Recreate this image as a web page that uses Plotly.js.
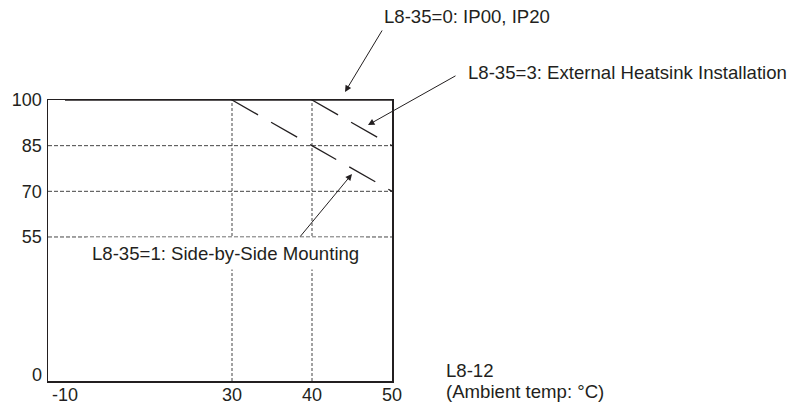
<!DOCTYPE html>
<html><head><meta charset="utf-8">
<script src="https://cdn.plot.ly/plotly-3.0.1.min.js"></script>
<style>html,body{margin:0;padding:0;background:#fff}#chart{width:787px;height:403px}</style>
</head><body><div id="chart"></div>
<script>
// ---- data ----
const xTickVals = [-10, 30, 40, 50];
const yTickVals = [0, 55, 70, 85, 100];
const gridTemps = [30, 40];
const gridLoads = [55, 70, 85];
const ip00Temps = [-10, 30, 40, 50];
const ip00Load  = [100, 100, 100, 100];
const sideTemps = [30, 40, 50];
const sideLoad  = [100, 85, 70];
const extTemps  = [40, 50];
const extLoad   = [100, 85];
const labelIP00 = 'L8-35=0: IP00, IP20';
const labelExt  = 'L8-35=3: External Heatsink Installation';
const labelSide = 'L8-35=1: Side-by-Side Mounting';
const xTitle1 = 'L8-12';
const xTitle2 = '(Ambient temp: °C)';

// broken-axis mapping (drawing is compressed below 30 °C and below 55 %)
function mx(t){ return t >= 30 ? t : 30 - (30 - t) * 0.521875; }
function my(v){ return v >= 55 ? v : 55 - (55 - v) * 0.8244; }

const ink = '#231f20';
const family = '"Liberation Sans", Arial, sans-serif';
const font = {family: family, size: 18.6, color: ink};
const tickFont = {family: family, size: 18, color: ink};

const traces = [
  {x: ip00Temps.map(mx), y: ip00Load.map(my), mode: 'lines', line: {color: ink, width: 1.5}, cliponaxis: false, hoverinfo: 'skip'},
  {x: sideTemps.map(mx), y: sideLoad.map(my), mode: 'lines', line: {color: ink, width: 1.3, dash: '30px,15px'}, hoverinfo: 'skip'},
  {x: extTemps.map(mx), y: extLoad.map(my), mode: 'lines', line: {color: ink, width: 1.3, dash: '30px,15px'}, hoverinfo: 'skip'}
];

const shapes = [];
gridTemps.forEach(t => shapes.push({type: 'line', xref: 'x', yref: 'paper', x0: mx(t), x1: mx(t), y0: 0, y1: 1, layer: 'below', line: {color: '#444', width: 1, dash: '3px,2px'}}));
gridLoads.forEach(v => shapes.push({type: 'line', xref: 'paper', yref: 'y', x0: 0, x1: 1, y0: my(v), y1: my(v), layer: 'below', line: {color: '#444', width: 1, dash: '4px,2px'}}));

const arrow = (hx, hy, ax, ay) => ({xref: 'paper', yref: 'paper', x: hx, y: hy, ax: ax, ay: ay, text: '', showarrow: true, arrowhead: 2, arrowsize: 1.3, arrowwidth: 1, arrowcolor: ink, standoff: 0, startstandoff: 0});

const annotations = [
  {xref: 'paper', yref: 'paper', x: 0.9709, y: 1.2954, text: labelIP00, showarrow: false, xanchor: 'left', yanchor: 'middle', font: font},
  {xref: 'paper', yref: 'paper', x: 1.2151, y: 1.0996, text: labelExt, showarrow: false, xanchor: 'left', yanchor: 'middle', font: font},
  {xref: 'paper', yref: 'paper', x: 0.5174, y: 0.4555, text: labelSide, showarrow: false, xanchor: 'center', yanchor: 'middle', font: font, bgcolor: '#ffffff', borderpad: 5},
  arrow(0.8634, 1.0285, 38, -63),
  arrow(0.9302, 0.9110, 89, -50),
  arrow(0.8837, 0.7367, -53, 64),
  {xref: 'paper', yref: 'paper', x: 1.151, y: 0.0356, text: xTitle1, showarrow: false, xanchor: 'left', yanchor: 'middle', font: font},
  {xref: 'paper', yref: 'paper', x: 1.151, y: -0.0356, text: xTitle2, showarrow: false, xanchor: 'left', yanchor: 'middle', font: font}
];

const layout = {
  width: 787, height: 403,
  margin: {l: 48, r: 395, t: 100, b: 22},
  paper_bgcolor: '#fff', plot_bgcolor: '#fff',
  showlegend: false,
  font: font,
  xaxis: {range: [7, 50], tickvals: xTickVals.map(mx), ticktext: xTickVals.map(String), showgrid: false, zeroline: false,
          showline: true, mirror: true, linecolor: ink, linewidth: 1.5, ticks: '', ticklabelstandoff: -3, tickfont: tickFont, fixedrange: true},
  yaxis: {range: [7.69, 100], tickvals: yTickVals.map(my), ticktext: yTickVals.map(String), showgrid: false, zeroline: false,
          showline: true, mirror: true, linecolor: ink, linewidth: 1.5, ticks: '', ticklabelstandoff: 1, tickfont: tickFont, fixedrange: true},
  shapes: shapes,
  annotations: annotations
};

Plotly.newPlot('chart', traces, layout, {staticPlot: true, displayModeBar: false});
</script>
</body></html>
